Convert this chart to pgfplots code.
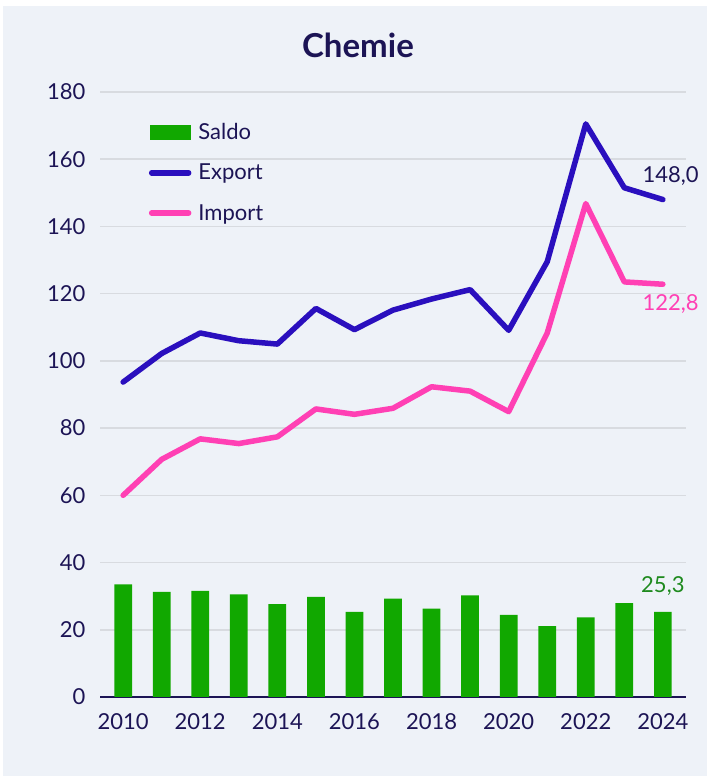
\documentclass[border=0pt]{standalone}
\usepackage{pgfplots}
\pgfplotsset{compat=1.18}
\usepackage{fontspec}
\setmainfont{Lato}
\definecolor{bg}{HTML}{EEF2F8}
\definecolor{navy}{HTML}{1C1455}
\definecolor{expc}{HTML}{2A0FBE}
\definecolor{impc}{HTML}{FF40B4}
\definecolor{sgreen}{HTML}{11A800}
\definecolor{lgreen}{HTML}{1E8A1E}
\definecolor{gridc}{HTML}{D8DBE0}
\pgfplotstableread{
year saldo export import
2010 33.5 93.7 60.0
2011 31.3 102.2 70.7
2012 31.6 108.3 76.8
2013 30.5 106.0 75.4
2014 27.6 105.0 77.4
2015 29.8 115.6 85.7
2016 25.3 109.3 84.1
2017 29.3 115.1 85.9
2018 26.3 118.4 92.3
2019 30.2 121.2 91.0
2020 24.4 109.1 84.9
2021 21.1 129.5 108.3
2022 23.7 170.5 146.8
2023 27.9 151.5 123.5
2024 25.3 148.0 122.8
}\datatable
\begin{document}
\begin{tikzpicture}[x=1pt,y=1pt]
\fill[white] (0,0) rectangle (707,776);
\fill[bg] (3,0) rectangle (707,770);
\node[font=\fontsize{33}{37}\selectfont\bfseries, text=navy] at (358,731) {Chemie};
\begin{axis}[
  at={(100pt,79pt)}, anchor=south west,
  scale only axis, width=586pt, height=605pt,
  xmin=2009.4, xmax=2024.6, ymin=0, ymax=180,
  xtick={2010,2012,...,2024}, ytick={0,20,...,180},
  major tick length=0pt,
  axis x line*=bottom, axis y line*=left,
  y axis line style={draw=none},
  x axis line style={draw=navy, line width=2pt},
  ymajorgrids, grid style={gridc, line width=1.5pt},
  ticklabel style={font=\fontsize{22}{26}\selectfont, text=navy},
  /pgf/number format/assume math mode=true,
  /pgf/number format/set thousands separator={},
  xticklabel style={yshift=-13pt},
  yticklabel style={xshift=-11pt},
  clip=false,
  legend cell align=left,
  legend style={draw=none, fill=none, at={(0.078,0.955)}, anchor=north west,
    font=\fontsize{22}{26}\selectfont, text=navy, row sep=19pt, column sep=5pt},
]
\addplot[ybar, bar width=0.46, fill=sgreen, draw=none,
  legend image code/.code={\fill[sgreen] (0pt,-7.5pt) rectangle (41pt,7.5pt);}]
  table[x=year, y=saldo] {\datatable};
\addlegendentry{Saldo}
\addplot[expc, line width=5.5pt, line cap=round, line join=round,
  legend image code/.code={\draw[expc, line width=5.5pt, line cap=round] (2pt,0pt) -- (39pt,0pt);}]
  table[x=year, y=export] {\datatable};
\addlegendentry{Export}
\addplot[impc, line width=5.5pt, line cap=round, line join=round,
  legend image code/.code={\draw[impc, line width=5.5pt, line cap=round] (2pt,0pt) -- (39pt,0pt);}]
  table[x=year, y=import] {\datatable};
\addlegendentry{Import}
\node[text=navy, font=\fontsize{22}{26}\selectfont] at (axis cs:2024.2,155) {148,0};
\node[text=impc, font=\fontsize{22}{26}\selectfont] at (axis cs:2024.2,117) {122,8};
\node[text=lgreen, font=\fontsize{22}{26}\selectfont] at (axis cs:2024.0,33) {25,3};
\end{axis}
\end{tikzpicture}
\end{document}
